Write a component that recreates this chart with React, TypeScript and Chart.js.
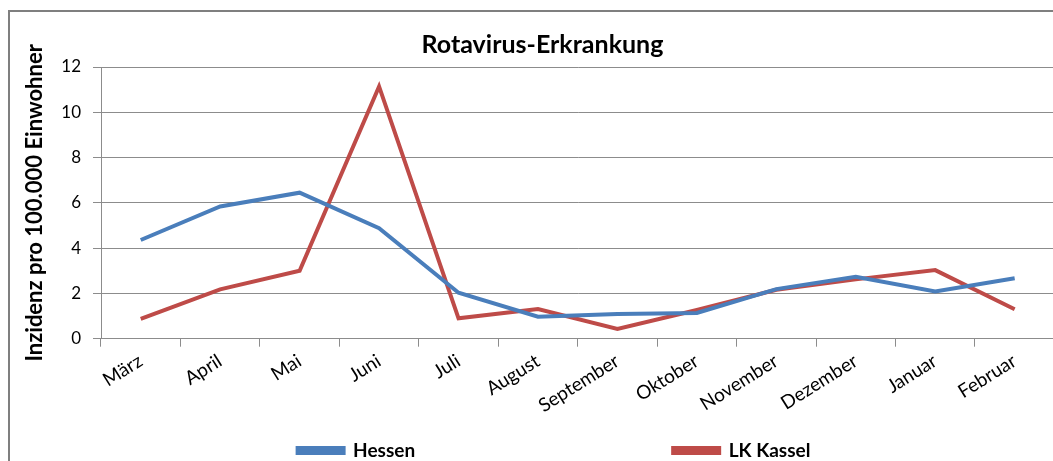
import React, { useEffect, useRef } from "react";
import { Chart, registerables } from "chart.js";

Chart.register(...registerables);

const months = ["März", "April", "Mai", "Juni", "Juli", "August", "September", "Oktober", "November", "Dezember", "Januar", "Februar"];
const hessen = [4.36, 5.84, 6.45, 4.88, 2.03, 0.97, 1.09, 1.14, 2.19, 2.73, 2.09, 2.67];
const lkKassel = [0.88, 2.18, 3.0, 11.14, 0.9, 1.31, 0.43, 1.27, 2.16, 2.62, 3.03, 1.3];
const seriesNames = ["Hessen", "LK Kassel"];
const chartTitle = "Rotavirus-Erkrankung";
const yTitle = "Inzidenz pro 100.000 Einwohner";
const yMin = 0;
const yMax = 12;
const yStep = 2;

const FONT = "Lato";
const GRID = "#8c8c8c";
const LEGEND_GAP = 258;
const LEGEND_X_SHIFT = 11.5;

// Excel spreads the two legend entries far apart; Chart.js uses the label padding
// both as horizontal gap and as top offset, so move the legend box's top up to compensate.
const legendShift = {
  id: "legendShift",
  afterLayout(chart: any) {
    const lg = chart.legend;
    if (lg) {
      lg.top -= LEGEND_GAP - 10;
      lg.left += LEGEND_X_SHIFT;
      lg.right += LEGEND_X_SHIFT;
    }
  },
};

export default function App() {
  const ref = useRef<HTMLCanvasElement | null>(null);
  useEffect(() => {
    if (!ref.current) return;
    const chart = new Chart(ref.current, {
      type: "line",
      data: {
        labels: months,
        datasets: [
          {
            label: seriesNames[0],
            data: hessen,
            borderColor: "#4A7EBB",
            backgroundColor: "#4A7EBB",
            borderWidth: 4,
            pointRadius: 0,
            tension: 0,
            yAxisID: "y",
          },
          {
            label: seriesNames[1],
            data: lkKassel,
            borderColor: "#BE4B48",
            backgroundColor: "#BE4B48",
            borderWidth: 4,
            pointRadius: 0,
            tension: 0,
            yAxisID: "y",
          },
        ],
      },
      options: {
        animation: false,
        responsive: false,
        devicePixelRatio: 1,
        layout: { padding: { left: 0, right: 0, top: 0, bottom: 3 } },
        plugins: {
          title: {
            display: true,
            text: chartTitle,
            color: "#000",
            font: { family: FONT, size: 25, weight: "bold" },
            padding: { top: 18, bottom: 7 },
          },
          legend: {
            display: true,
            position: "bottom",
            maxHeight: 40,
            labels: {
              color: "#000",
              font: { family: FONT, size: 19, weight: "bold" },
              boxWidth: 46,
              boxHeight: 5,
              padding: LEGEND_GAP,
            },
          },
          tooltip: { enabled: false },
        },
        scales: {
          x: {
            offset: true,
            grid: {
              display: true,
              drawOnChartArea: false,
              drawTicks: true,
              tickLength: 8,
              offset: true,
              color: GRID,
            },
            border: { display: true, color: GRID, width: 1 },
            ticks: {
              color: "#000",
              font: { family: FONT, size: 19 },
              minRotation: 32,
              maxRotation: 32,
              autoSkip: false,
              padding: 3,
            },
            afterFit(scale: any) {
              scale.height = 92.3;
            },
          },
          y: {
            position: "left",
            min: yMin,
            max: yMax,
            ticks: {
              stepSize: yStep,
              color: "#000",
              font: { family: FONT, size: 17 },
              padding: 12,
            },
            grid: {
              color: GRID,
              lineWidth: 1,
              tickLength: 8,
              drawTicks: true,
            },
            border: { display: true, color: GRID, width: 1 },
            title: {
              display: true,
              text: yTitle,
              color: "#000",
              font: { family: FONT, size: 22, weight: "bold" },
              padding: { top: 12, bottom: 0 },
            },
            afterFit(scale: any) {
              scale.width = 91;
            },
          },
          yRight: {
            position: "right",
            display: true,
            grid: { display: false },
            border: { display: false },
            ticks: { display: false },
            afterFit(scale: any) {
              scale.width = 20.6;
            },
          },
        },
      },
      plugins: [legendShift],
    } as any);
    return () => chart.destroy();
  }, []);

  return (
    <div style={{ position: "fixed", left: 8, top: 10, right: 0, bottom: 0, overflow: "hidden", background: "#fff" }}>
      <div style={{ borderLeft: "2px solid #7f7f7f", borderTop: "2px solid #7f7f7f", width: 1065, height: 462 }}>
        <canvas ref={ref} width={1065} height={462} style={{ display: "block", width: 1065, height: 462 }} />
      </div>
    </div>
  );
}
